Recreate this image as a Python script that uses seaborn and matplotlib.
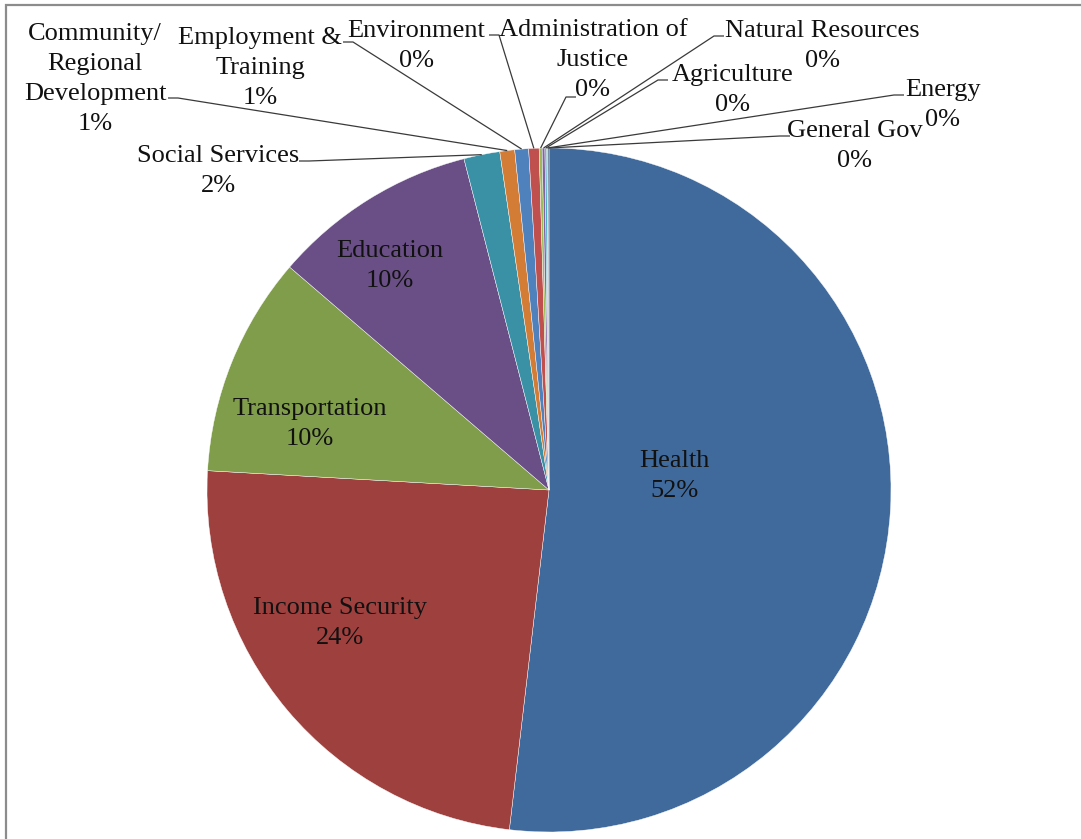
import matplotlib
matplotlib.use("Agg")
import matplotlib.pyplot as plt
import seaborn as sns
import numpy as np
from matplotlib.patches import Rectangle

# ---------------- data ----------------
categories = ["Health", "Income Security", "Transportation", "Education",
              "Social Services", "Community/\nRegional\nDevelopment",
              "Employment &\nTraining", "Environment",
              "Administration of\nJustice", "Natural Resources",
              "Agriculture", "Energy", "General Gov"]
values = [51.85, 24.05, 10.4, 9.7, 1.7, 0.7, 0.65, 0.49, 0.14, 0.13, 0.09, 0.05, 0.05]
colors = ["#406A9C", "#9E403E", "#7F9D4A", "#6A4F86", "#3A90A5", "#D27C36",
          "#4F81BD", "#C0504D", "#9BBB59", "#8064A2", "#4BACC6", "#F79646", "#2C4D75"]

# ---------------- layout (pixels) ----------------
W, H = 1081, 839
CX, CY, R = 549, 490, 342
label_pos = [(674, 476), (340, 623), (310, 424), (390, 266), (218, 171),
             (95, 79), (260, 68), (416, 46), (593, 60), (822, 46),
             (733, 90), (943, 105), (855, 146)]
# leader line: (start at label, end of short horizontal stub)
leaders = {4: ((299, 161), (309, 161)),
           5: ((168, 98), (178, 98)),
           6: ((343, 42), (353, 42)),
           7: ((489, 35), (499, 35)),
           8: ((576, 97), (566, 97)),
           9: ((724, 36), (714, 36)),
           10: ((668, 80), (658, 80)),
           11: ((904, 95), (894, 95)),
           12: ((790, 136), (780, 136))}

sns.set_theme(style="white")
plt.rcParams['font.family'] = ['Liberation Serif', 'DejaVu Serif']


def d(px, py):
    return ((px - CX) / R, (CY - py) / R)


fig = plt.figure(figsize=(W / 100, H / 100), dpi=100)
ax = fig.add_axes([0, 0, 1, 1])
wedges, _ = ax.pie(values, colors=colors, startangle=90, counterclock=False,
                   radius=1.0, center=(0, 0),
                   wedgeprops=dict(edgecolor='white', linewidth=0.3))
ax.set_xlim(-CX / R, (W - CX) / R)
ax.set_ylim((CY - H) / R, CY / R)
ax.set_aspect('equal')
ax.axis('off')

total = sum(values)
for i, (cat, v) in enumerate(zip(categories, values)):
    pct = f"{round(v / total * 100):.0f}%"
    x, y = d(*label_pos[i])
    ax.text(x, y, f"{cat}\n{pct}", ha='center', va='center',
            multialignment='center', fontsize=19, color='#111111',
            linespacing=1.48)
    if i in leaders:
        w = wedges[i]
        mid = np.deg2rad((w.theta1 + w.theta2) / 2)
        ex, ey = np.cos(mid), np.sin(mid)
        p0 = d(*leaders[i][0])
        p1 = d(*leaders[i][1])
        ax.plot([p0[0], p1[0], ex], [p0[1], p1[1], ey], color='#3a3a3a',
                lw=0.9, solid_capstyle='butt')

fig.patches.append(Rectangle((5.5 / W, -0.1), 1.2, 1.1 - 5.5 / H,
                             transform=fig.transFigure, fill=False,
                             edgecolor='#8c8c8c', lw=1.6))

fig.savefig("out.png", dpi=100)
